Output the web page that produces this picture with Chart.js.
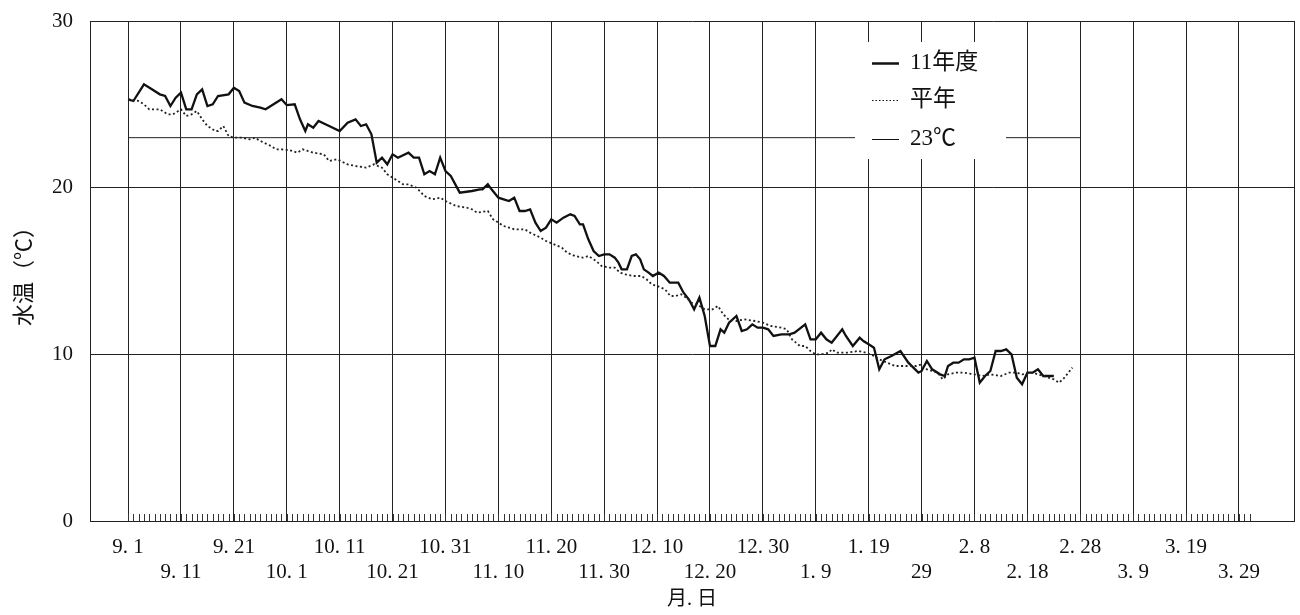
<!DOCTYPE html>
<html>
<head>
<meta charset="utf-8">
<script src="https://cdn.jsdelivr.net/npm/chart.js@4"></script>
<style>
  body { margin: 0; background: #fff; }
  canvas { display: block; }
</style>
</head>
<body>
<canvas id="graf" width="1300" height="615"></canvas>
<script>
// 11年度の水温 (9月1日からの日数)
const dias11 = [0, 1, 3, 4.5, 6, 7, 8, 9, 10, 11, 12, 13, 14, 15, 16, 17, 19, 20, 21, 22, 23.5, 25, 26, 27.5, 29, 30,
  31.5, 32.5, 33.5, 34, 35, 36, 38, 40, 41.5, 43, 44, 45, 46, 47, 48, 49, 50, 51, 53, 54, 55, 56, 57, 58, 59, 60, 61,
  62.7, 65, 66.5, 67, 68, 68.7, 70, 71, 72, 73, 74, 75, 76, 77, 78, 79, 80, 81, 82.3, 83.6, 84.4, 85.4, 86, 87, 88, 89, 90, 91, 92,
  92.7, 93.3, 94.3, 95.2, 96, 96.8, 97.5, 98.4, 99.2, 100.3, 101.3, 102.4, 103.5, 104, 105, 106, 107, 108, 109, 110, 111,
  112, 112.7, 113.6, 115, 116, 117, 118, 119, 120, 121, 122, 123.5, 125, 126, 128, 129, 130, 131, 132, 133, 135, 135.7,
  137, 138.3, 139, 140, 141, 142, 143, 144.3, 146, 147.5, 149.4, 150, 151, 152, 153.5, 154.4, 155, 156, 157, 158, 159,
  160, 161, 162, 163, 164, 165, 166, 167, 168, 169, 170, 171, 172, 173, 174, 175];
const temp11 = [25.3, 25.2, 26.2, 25.9, 25.6, 25.5, 24.9, 25.4, 25.7, 24.7, 24.7, 25.6, 25.9, 24.9, 25.0, 25.5, 25.6, 26.0, 25.8, 25.1, 24.9, 24.8, 24.7, 25.0, 25.3, 24.95,
  25.0, 24.1, 23.4, 23.8, 23.6, 24.0, 23.7, 23.4, 23.9, 24.1, 23.7, 23.8, 23.2, 21.5, 21.8, 21.4, 22.0, 21.8, 22.1, 21.8, 21.8, 20.8, 21.0, 20.8, 21.8, 21.0, 20.7,
  19.7, 19.8, 19.9, 19.9, 20.2, 19.9, 19.4, 19.3, 19.2, 19.4, 18.6, 18.6, 18.7, 17.9, 17.4, 17.6, 18.1, 17.9, 18.2, 18.4, 18.3, 17.8, 17.8, 16.9, 16.2, 15.9, 16.0, 16.0, 15.8,
  15.5, 15.1, 15.1, 15.9, 16.0, 15.7, 15.1, 14.9, 14.7, 14.9, 14.7, 14.3, 14.3, 14.3, 13.7, 13.3, 12.7, 13.4, 12.3, 10.5, 10.5,
  11.5, 11.3, 11.9, 12.3, 11.4, 11.5, 11.8, 11.6, 11.6, 11.5, 11.1, 11.2, 11.2, 11.3, 11.8, 10.9, 10.9, 11.3, 10.9, 10.7, 11.5, 11.1,
  10.5, 11.0, 10.8, 10.6, 10.4, 9.1, 9.7, 9.9, 10.2, 9.5, 8.9, 9.0, 9.6, 9.1, 8.8, 8.7, 9.3, 9.5, 9.5, 9.7, 9.7,
  9.8, 8.3, 8.7, 9.0, 10.2, 10.2, 10.3, 10.0, 8.6, 8.2, 8.9, 8.9, 9.1, 8.7, 8.7, 8.7];

// 平年値
const diasMedia = [0, 2, 3, 4, 6, 7.5, 8.5, 10, 11, 12, 13, 14, 15, 16.5, 17, 18, 19, 20, 21.5, 23, 24, 25, 27, 28, 29, 30.5,
  32, 33, 35, 37, 38, 39.5, 41.5, 43, 45, 46.5, 48, 49, 50.5, 52, 53, 54.5, 56, 57.5, 59, 60, 62, 64, 65, 66, 68, 69, 71,
  73, 75, 76, 78, 79, 80.5, 82, 83, 84.5, 86, 87, 88.5, 89.5, 91, 92, 93, 94, 95.5, 97, 98, 99, 100, 101.5, 102.5, 103.5,
  104.5, 105.5, 106.5, 108, 109, 110.5, 111.5, 112.5, 113.5, 115, 116.5, 118.5, 120, 121.5, 123.5, 124.5, 125.5, 127, 128,
  129, 130, 131, 132.5, 133, 134, 136, 138, 139.5, 141, 142, 143.5, 145, 146.5, 148, 149, 150, 151, 153, 154, 155, 156.5,
  158, 160, 161.5, 163, 165, 166.5, 168, 169, 171, 172, 174, 175, 176, 177, 178.5];
const tempMedia = [25.3, 25.2, 25.0, 24.7, 24.7, 24.4, 24.4, 24.7, 24.3, 24.4, 24.6, 24.1, 23.7, 23.4, 23.4, 23.7, 23.1, 23.0, 23.0, 22.9, 23.0, 22.8, 22.5, 22.3, 22.3, 22.25,
  22.1, 22.3, 22.1, 22.0, 21.6, 21.7, 21.4, 21.3, 21.2, 21.4, 21.2, 20.8, 20.5, 20.2, 20.2, 20.0, 19.5, 19.3, 19.4, 19.2, 18.9, 18.8, 18.7, 18.5, 18.6, 18.1, 17.7,
  17.5, 17.5, 17.3, 17.0, 16.8, 16.6, 16.4, 16.1, 15.9, 15.8, 15.9, 15.6, 15.3, 15.2, 15.2, 14.9, 14.8, 14.7, 14.7, 14.5, 14.2, 14.1, 13.9, 13.5, 13.5,
  13.6, 13.4, 13.1, 12.9, 12.7, 12.7, 12.9, 12.4, 12.1, 12.0, 12.1, 12.0, 11.9, 11.7, 11.6, 11.5, 10.9, 10.5, 10.5,
  10.2, 10.0, 10.0, 10.1, 10.3, 10.1, 10.1, 10.2, 10.1, 9.9, 9.7, 9.5, 9.3, 9.3, 9.3, 9.3, 9.4, 9.1, 8.9, 8.5, 8.8, 8.9,
  8.9, 8.8, 8.7, 8.8, 8.7, 8.9, 8.9, 8.8, 8.9, 8.8, 8.6, 8.5, 8.3, 8.6, 9.2];

// 23℃ の基準線
const diasRef = [0, 180];
const tempRef = [23, 23];

// 目盛り (10日ごと)
const diasTick = [0, 10, 20, 30, 40, 50, 60, 70, 80, 90, 100, 110, 120, 130, 140, 150, 160, 170, 180, 190, 200, 210];
const rotulos = ['9. 1', '9. 11', '9. 21', '10. 1', '10. 11', '10. 21', '10. 31', '11. 10', '11. 20', '11. 30', '12. 10',
  '12. 20', '12. 30', '1. 9', '1. 19', '29', '2. 8', '2. 18', '2. 28', '3. 9', '3. 19', '3. 29'];
const ultimoDia = 212; // 3.31

const xMin = -7.2;
const xMax = 220.4;
const fonte = '"Liberation Serif", "Noto Sans CJK JP", serif';
const corLinha = '#222';

function pontos(xs, ys) {
    return xs.map((x, i) => ({ x, y: ys[i] }));
}

// pequenos traços diários no eixo x
const tracosDiarios = {
    id: 'tracosDiarios',
    beforeDatasetsDraw(chart) {
        const { ctx, scales: { x }, chartArea } = chart;
        ctx.save();
        ctx.strokeStyle = '#333';
        ctx.lineWidth = 1;
        ctx.beginPath();
        for (let d = 0; d <= ultimoDia; d++) {
            const px = Math.round(x.getPixelForValue(d)) + 0.5;
            ctx.moveTo(px, chartArea.bottom);
            ctx.lineTo(px, chartArea.bottom - 7);
        }
        ctx.stroke();
        ctx.restore();
    }
};

// legenda dentro do gráfico
const legenda = {
    id: 'legenda',
    afterDatasetsDraw(chart) {
        const { ctx } = chart;
        const bx = 855, by = 42, bw = 151, bh = 117;
        ctx.save();
        ctx.fillStyle = '#fff';
        ctx.fillRect(bx, by, bw, bh);
        const itens = [
            { texto: '11年度', y: 63, largura: 2.5, dash: [] },
            { texto: '平年', y: 100, largura: 1, dash: [1.5, 2] },
            { texto: '23℃', y: 139, largura: 1, dash: [] }
        ];
        ctx.font = '23px ' + fonte;
        ctx.textBaseline = 'middle';
        ctx.fillStyle = '#111';
        itens.forEach(it => {
            ctx.beginPath();
            ctx.strokeStyle = '#111';
            ctx.lineWidth = it.largura;
            ctx.setLineDash(it.dash);
            ctx.moveTo(872, it.y + 0.5);
            ctx.lineTo(899, it.y + 0.5);
            ctx.stroke();
            ctx.fillText(it.texto, 910, it.y);
        });
        ctx.restore();
    }
};

new Chart(document.getElementById('graf').getContext('2d'), {
    type: 'line',
    data: {
        datasets: [
            {
                label: '23℃',
                data: pontos(diasRef, tempRef),
                borderColor: '#222',
                borderWidth: 1,
                pointRadius: 0
            },
            {
                label: '平年',
                data: pontos(diasMedia, tempMedia),
                borderColor: '#222',
                borderWidth: 1.8,
                borderDash: [2, 2.5],
                pointRadius: 0
            },
            {
                label: '11年度',
                data: pontos(dias11, temp11),
                borderColor: '#111',
                borderWidth: 2.3,
                pointRadius: 0
            }
        ]
    },
    options: {
        responsive: false,
        animation: false,
        layout: { padding: { top: 21, right: 6, left: 0, bottom: 0 }, autoPadding: false },
        plugins: {
            legend: { display: false },
            tooltip: { enabled: false }
        },
        scales: {
            x: {
                type: 'linear',
                min: xMin,
                max: xMax,
                afterBuildTicks: s => {
                    s.ticks = diasTick.map(v => ({ value: v })).concat([{ value: xMax }]);
                },
                afterFit: s => {
                    s.height = 94;
                    s.paddingLeft = 0;
                    s.paddingRight = 0;
                },
                grid: { color: corLinha, lineWidth: 1, drawTicks: false },
                border: { color: corLinha, width: 1 },
                ticks: {
                    autoSkip: false,
                    maxRotation: 0,
                    padding: 14,
                    color: '#111',
                    font: { family: fonte, size: 21, lineHeight: 1.2 },
                    callback: v => {
                        const i = diasTick.indexOf(v);
                        if (i < 0) return '';
                        return i % 2 === 0 ? [rotulos[i], ''] : ['', rotulos[i]];
                    }
                },
                title: {
                    display: true,
                    text: '月. 日',
                    color: '#111',
                    font: { family: fonte, size: 20, lineHeight: 1.2 },
                    padding: { top: 0, bottom: 3 }
                }
            },
            y: {
                min: 0,
                max: 30,
                afterFit: s => {
                    s.width = 90;
                    s.paddingTop = 0;
                    s.paddingBottom = 0;
                },
                grid: { color: corLinha, lineWidth: 1, drawTicks: false },
                border: { color: corLinha, width: 1 },
                ticks: {
                    stepSize: 10,
                    padding: 17,
                    color: '#111',
                    font: { family: fonte, size: 21 }
                },
                title: {
                    display: true,
                    text: '水温（℃）',
                    color: '#111',
                    font: { family: fonte, size: 22, lineHeight: 1.2 },
                    padding: { top: 12, bottom: 0 }
                }
            }
        }
    },
    plugins: [tracosDiarios, legenda]
});
</script>
</body>
</html>
